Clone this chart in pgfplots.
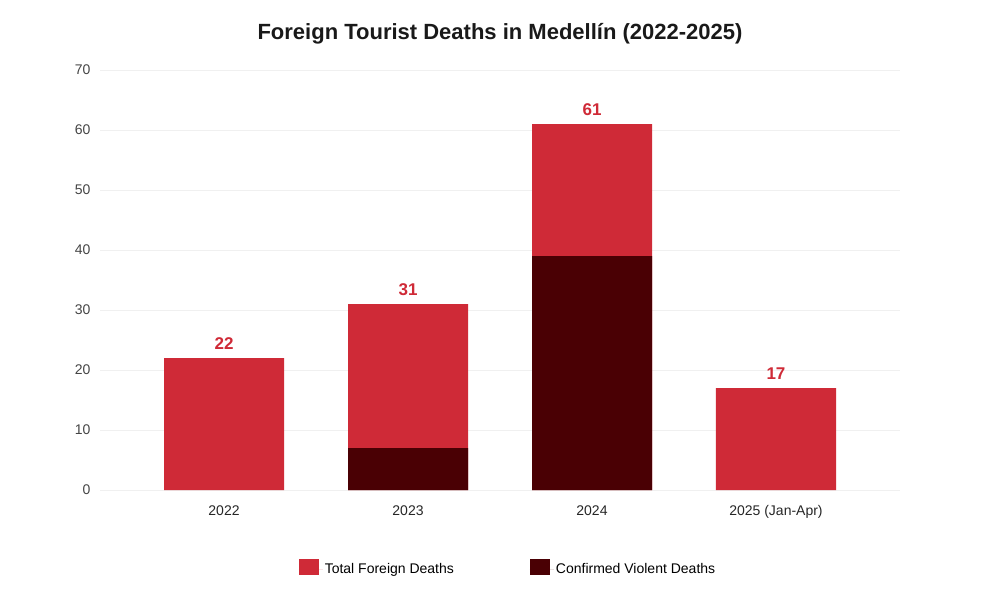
\documentclass[border=0pt]{standalone}
\usepackage{fontspec}
\setmainfont{Liberation Sans}
\usepackage{pgfplots}
\pgfplotsset{compat=1.18}
\definecolor{totred}{HTML}{CF2A37}
\definecolor{viol}{HTML}{4A0004}
\definecolor{ticktxt}{HTML}{444444}
\pgfplotsset{sqlegend/.style={legend image code/.code={\fill[##1] (0pt,-6pt) rectangle (20pt,10pt); \path (0pt,0pt) -- (24pt,0pt);}}}
\begin{document}
\begin{tikzpicture}[x=1pt,y=1pt]
\path[use as bounding box] (0,0) rectangle (1000,600);
\begin{axis}[
  at={(100pt,110pt)}, anchor=south west,
  scale only axis, width=800pt, height=420pt,
  xmin=-0.674, xmax=3.674, ymin=0, ymax=70,
  ytick={0,10,...,70},
  xtick={0,1,2,3},
  xticklabels={2022,2023,2024,2025 (Jan-Apr)},
  /pgf/number format/assume math mode=true,
  axis line style={draw=none},
  major tick length=0pt,
  ymajorgrids,
  grid style={color=black!6, line width=0.9pt},
  tick label style={font=\fontsize{14}{16}\selectfont, text=ticktxt},
  yticklabel style={xshift=-6pt},
  xticklabel style={yshift=-12pt, text=black!85},
  legend style={at={(0.51,-0.186)}, anchor=center, draw=none, fill=none,
    font=\fontsize{14}{16}\selectfont, legend columns=2,
    /tikz/every even column/.append style={column sep=74pt}},
  ybar, bar width=120pt,
]
\addplot[fill=totred, draw=none, bar shift=0pt, sqlegend,
  nodes near coords,
  nodes near coords style={font=\bfseries\fontsize{17}{20}\selectfont, text=totred, anchor=base, yshift=9pt}]
  coordinates {(0,22) (1,31) (2,61) (3,17)};
\addlegendentry{Total Foreign Deaths}
\addplot[fill=viol, draw=none, bar shift=0pt, sqlegend]
  coordinates {(1,7) (2,39)};
\addlegendentry{Confirmed Violent Deaths}
\end{axis}
\node[font=\bfseries\fontsize{22}{26}\selectfont, text=black!90] at (500,566) {Foreign Tourist Deaths in Medellín (2022-2025)};
\end{tikzpicture}
\end{document}
